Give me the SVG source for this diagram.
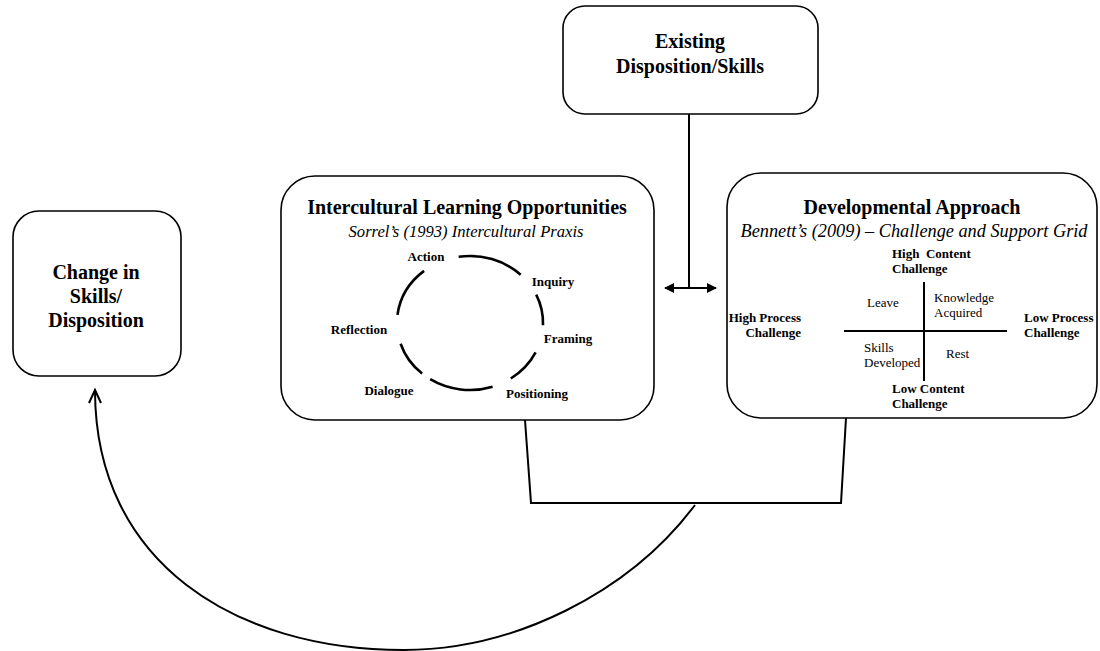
<svg xmlns="http://www.w3.org/2000/svg" width="1100" height="651" viewBox="0 0 1100 651">
<style>
.box{fill:#fff;stroke:#000;stroke-width:1.6}
.t{font-family:"Liberation Serif","Times New Roman",serif;fill:#000}
.b{font-weight:bold}
.i{font-style:italic}
.h{font-size:20px;font-weight:bold}
.s{font-size:16.6px;font-style:italic}
.s2{font-size:18.3px;font-style:italic}
.l{font-size:13px}
.c{text-anchor:middle}
.e{text-anchor:end}
.ln{fill:none;stroke:#000;stroke-width:2}
.arc{fill:none;stroke:#000;stroke-width:2.6}
</style>
<defs>
<marker id="ah" viewBox="0 0 10 10" refX="9" refY="5" markerWidth="5" markerHeight="5" orient="auto-start-reverse" markerUnits="strokeWidth">
<path d="M0,0 L10,5 L0,10 z" fill="#000"/>
</marker>
</defs>
<rect width="1100" height="651" fill="#fff"/>

<g id="connectors">
<line class="ln" x1="689" y1="114" x2="689" y2="288"/>
<line class="ln" x1="665" y1="288" x2="716" y2="288" marker-start="url(#ah)" marker-end="url(#ah)"/>
<polyline class="ln" points="525,420 531,503 841,503 846,418"/>
<path class="ln" d="M695,505 C629,593 514,650 404,650 C234,650 96,562 95,392"/>
<polyline class="ln" points="89,403 95,390 101,403"/>
</g>

<g id="node-change">
<rect class="box" x="13" y="211" width="168" height="165" rx="26"/>
<text class="t h c" x="96" y="279">Change in</text>
<text class="t h c" x="96" y="303">Skills/</text>
<text class="t h c" x="96" y="327">Disposition</text>
</g>

<g id="node-existing">
<rect class="box" x="563" y="6" width="255" height="108" rx="22"/>
<text class="t h c" x="690" y="48">Existing</text>
<text class="t h c" x="690" y="73">Disposition/Skills</text>
</g>

<g id="node-ilo">
<rect class="box" x="281" y="176" width="373" height="244" rx="34"/>
<text class="t h c" x="467" y="214">Intercultural Learning Opportunities</text>
<text class="t s c" x="466" y="237">Sorrel’s (1993) Intercultural Praxis</text>
<path class="arc" d="M458.6,256.8 A73,67 0 0 1 520.7,274.8"/>
<path class="arc" d="M536.2,294.7 A73,67 0 0 1 543,325.3"/>
<path class="arc" d="M535.6,352.4 A73,67 0 0 1 510.8,378.5"/>
<path class="arc" d="M492.6,386.7 A73,67 0 0 1 430.2,379.2"/>
<path class="arc" d="M422.1,373.6 A73,67 0 0 1 400.6,343.7"/>
<path class="arc" d="M397.5,314.8 A73,67 0 0 1 424.1,270.9"/>
<text class="t l b c" x="426" y="261">Action</text>
<text class="t l b c" x="553" y="286">Inquiry</text>
<text class="t l b c" x="359" y="334">Reflection</text>
<text class="t l b c" x="568" y="343">Framing</text>
<text class="t l b c" x="389" y="395">Dialogue</text>
<text class="t l b c" x="537" y="398">Positioning</text>
</g>

<g id="node-dev">
<rect class="box" x="727" y="173" width="370" height="245" rx="34"/>
<text class="t h c" x="912" y="214">Developmental Approach</text>
<text class="t s2 c" x="914" y="237">Bennett’s (2009) – Challenge and Support Grid</text>
<line class="ln" x1="924" y1="282" x2="924" y2="381" stroke-width="1.6"/>
<line class="ln" x1="844" y1="331" x2="1007" y2="331" stroke-width="1.6"/>
<text class="t l b" x="892" y="258">High&#160; Content</text>
<text class="t l b" x="892" y="273">Challenge</text>
<text class="t l" x="867" y="307">Leave</text>
<text class="t l" x="934" y="302">Knowledge</text>
<text class="t l" x="934" y="317">Acquired</text>
<text class="t l b e" x="801" y="322">High Process</text>
<text class="t l b e" x="801" y="337">Challenge</text>
<text class="t l b" x="1024" y="322">Low Process</text>
<text class="t l b" x="1024" y="337">Challenge</text>
<text class="t l" x="864" y="352">Skills</text>
<text class="t l" x="864" y="367">Developed</text>
<text class="t l" x="946" y="358">Rest</text>
<text class="t l b" x="892" y="393">Low Content</text>
<text class="t l b" x="892" y="408">Challenge</text>
</g>
</svg>
